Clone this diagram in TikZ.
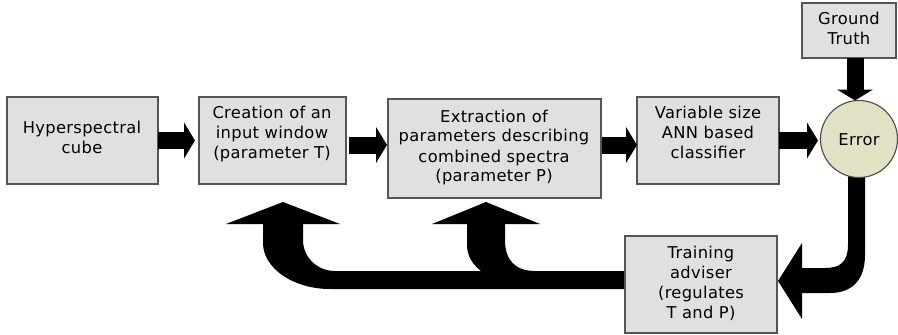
\documentclass[tikz,border=0pt]{standalone}
\usepackage{fontspec}
\setmainfont{DejaVu Sans}[LetterSpace=2]
\usetikzlibrary{arrows.meta,calc}
\definecolor{boxfill}{RGB}{224,224,224}
\definecolor{boxline}{RGB}{85,85,85}
\definecolor{errfill}{RGB}{227,225,195}
\begin{document}
\begin{tikzpicture}[x=1pt,y=-1pt,
  box/.style={draw=boxline,line width=1.1pt,fill=boxfill,inner sep=0pt,outer sep=0pt},
  lbl/.style={align=center,inner sep=0pt,font=\fontsize{16.3pt}{20pt}\selectfont},
  flow/.style={line width=17pt,-{Triangle[length=11pt,width=36pt,line width=0pt]}},
  bentarrow/.style={fill=black,draw=none},
]
\useasboundingbox (0,0) rectangle (898,335);

% feedback: error -> training adviser
\path[bentarrow] (848,176) -- (848,245)
  .. controls (848,262) and (840,268) .. (825,268) -- (802,268) -- (802,243)
  -- (778,281) -- (802,319) -- (802,293) -- (830,293)
  .. controls (852,293) and (865,280) .. (865,255) -- (865,176) -- cycle;

% feedback: training adviser -> window and extraction stages
\path[bentarrow] (626,271) -- (535,271)
  .. controls (515,271) and (505,260) .. (505,240)
  -- (505,224) -- (540,224) -- (486,202) -- (432,224) -- (467,224) -- (467,245)
  .. controls (467,256) and (473,265) .. (481,271)
  -- (335,271)
  .. controls (317,271) and (303,257) .. (303,240)
  -- (303,224) -- (340,224) -- (283,202) -- (226,224) -- (263,224) -- (263,243)
  .. controls (263,268) and (293,289) .. (330,289)
  -- (626,289) -- cycle;

% stages
\node[box,minimum width=151pt,minimum height=87pt] (cube) at (82.5,140.5) {};
\node[lbl] (cubet) at (82,137.5) {Hyperspectral\\cube};
\node[box,minimum width=147pt,minimum height=87pt] (win) at (272.5,140.5) {};
\node[lbl] (wint) at (272,133.5) {Creation of an\\input window\\(parameter T)};
\node[box,minimum width=213pt,minimum height=99pt] (ext) at (494.5,148.5) {};
\node[lbl] (extt) at (494,147.5) {Extraction of\\parameters describing\\combined spectra\\(parameter P)};
\node[box,minimum width=142pt,minimum height=87pt] (ann) at (708,140.5) {};
\node[lbl] (annt) at (708,132.5) {Variable size\\ANN based\\classifier};
\node[box,minimum width=94pt,minimum height=55pt] (gt) at (849,30.5) {};
\node[lbl] (gtt) at (849,28) {Ground\\Truth};
\node[box,circle,draw=boxline!85!black,fill=errfill,minimum size=77pt] (err) at (859,139) {};
\node[lbl] (errt) at (859,139.5) {Error};
\node[box,minimum width=152pt,minimum height=97pt] (adv) at (701,284.5) {};
\node[lbl] (advt) at (701,283.5) {Training\\adviser\\(regulates\\T and P)};

% forward flow
\draw[flow,shorten >=4pt] (cube.east) -- (win.west);
\coordinate (a2) at ([yshift=-4.5pt]win.east);
\draw[flow,shorten <=3pt,shorten >=1pt] (a2) -- (a2 -| ext.west);
\coordinate (a3) at ([yshift=3.5pt]ext.east);
\draw[flow,shorten <=1pt] (a3) -- (a3 -| ann.west);
\draw[flow,shorten >=2.5pt] (ann.east) -- (ann.east -| err.west);
\coordinate (a5) at ([xshift=6pt]gt.south);
\draw[flow] (a5) -- (a5 |- err.north);
\end{tikzpicture}
\end{document}
